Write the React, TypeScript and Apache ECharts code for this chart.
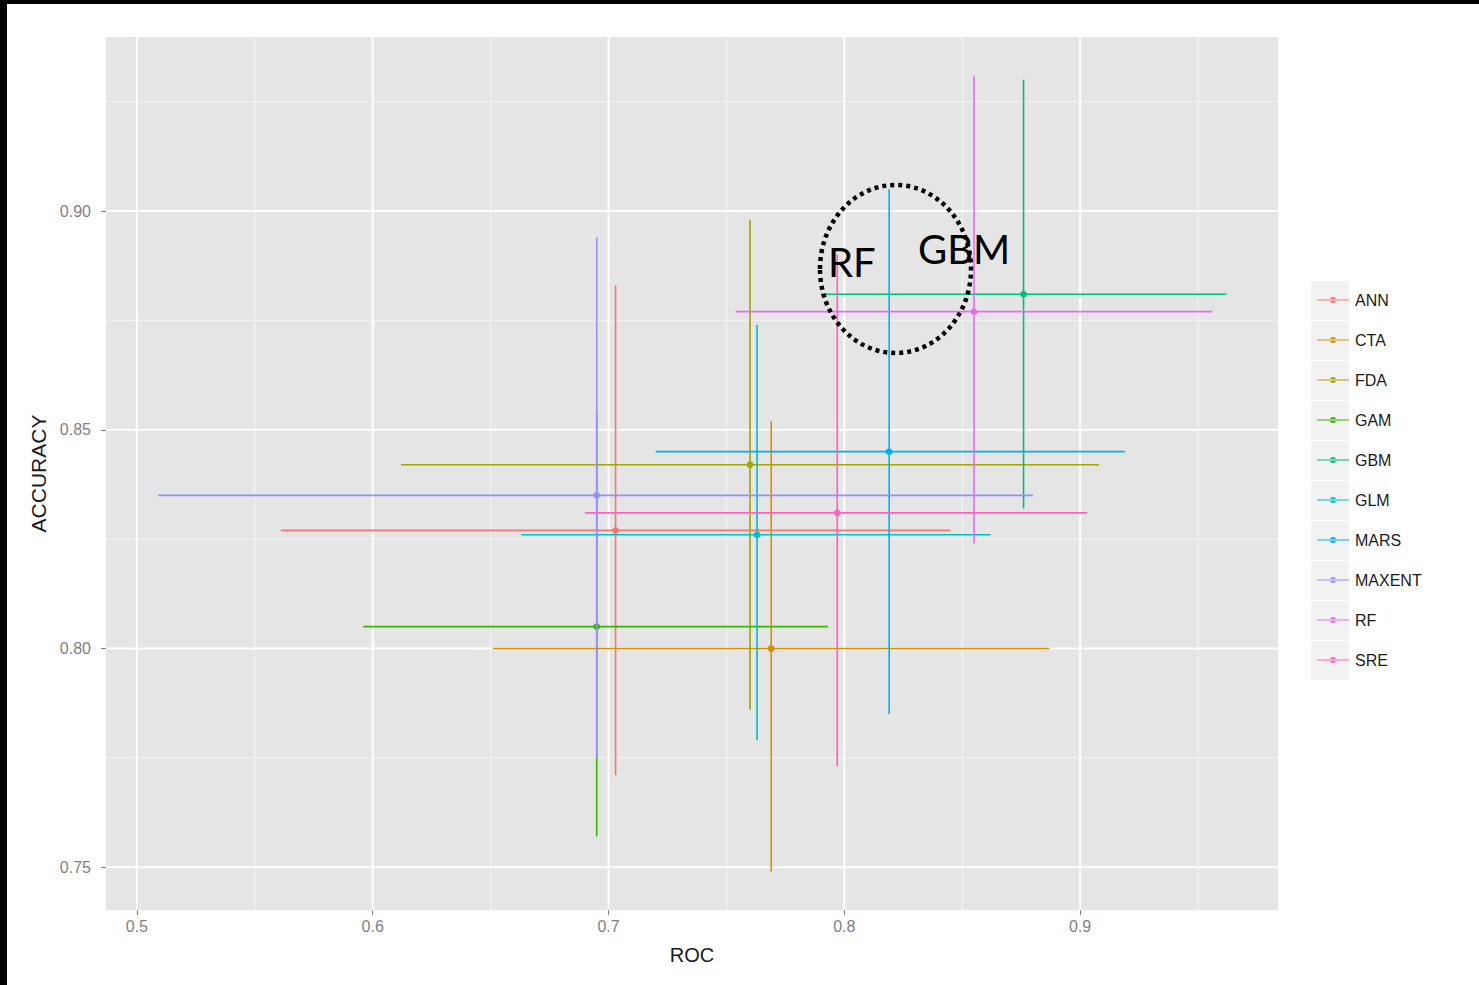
import React, { useEffect, useRef } from "react";
import * as echarts from "echarts";

const models = ["ANN", "CTA", "FDA", "GAM", "GBM", "GLM", "MARS", "MAXENT", "RF", "SRE"];
const colors = ["#F8766D", "#D89000", "#A3A500", "#39B600", "#00BF7D", "#00BFC4", "#00B0F6", "#9590FF", "#E76BF3", "#FF62BC"];
const rocMean = [0.703, 0.769, 0.760, 0.695, 0.876, 0.763, 0.819, 0.695, 0.855, 0.797];
const rocLow = [0.561, 0.651, 0.612, 0.596, 0.790, 0.663, 0.720, 0.509, 0.754, 0.690];
const rocHigh = [0.845, 0.887, 0.908, 0.793, 0.962, 0.862, 0.919, 0.880, 0.956, 0.903];
const accMean = [0.827, 0.800, 0.842, 0.805, 0.881, 0.826, 0.845, 0.835, 0.877, 0.831];
const accLow = [0.771, 0.749, 0.786, 0.757, 0.832, 0.779, 0.785, 0.775, 0.824, 0.773];
const accHigh = [0.883, 0.852, 0.898, 0.854, 0.930, 0.874, 0.905, 0.894, 0.931, 0.890];

const xTicks = [0.5, 0.6, 0.7, 0.8, 0.9];
const xMinor = [0.55, 0.65, 0.75, 0.85, 0.95];
const yTicks = [0.75, 0.8, 0.85, 0.9];
const yMinor = [0.775, 0.825, 0.875, 0.925];
const xRange = [0.4869, 0.9839];
const yRange = [0.7402, 0.9398];

const FONT = "'Liberation Sans', Arial, sans-serif";
const legendIcon = "path://M0,2.4 L32,2.4 L32,3.6 L0,3.6 Z M13,3 A3,3 0 1,0 19,3 A3,3 0 1,0 13,3 Z";

export default function App() {
  const ref = useRef<HTMLDivElement>(null);
  useEffect(() => {
    if (!ref.current) return;
    const chart = echarts.init(ref.current, null, { renderer: "svg" });

    const series: any[] = [
      {
        type: "custom",
        silent: true,
        z: 1,
        data: [[xRange[0], yRange[0]]],
        renderItem: (params: any, api: any) => {
          const cs = params.coordSys;
          const children: any[] = [];
          const vline = (v: number, major: boolean) => {
            const p = api.coord([v, yRange[0]]);
            children.push({
              type: "line",
              shape: { x1: p[0], y1: cs.y, x2: p[0], y2: cs.y + cs.height },
              style: { stroke: major ? "#FFFFFF" : "#F5F5F5", lineWidth: major ? 2 : 1 },
            });
          };
          const hline = (v: number, major: boolean) => {
            const p = api.coord([xRange[0], v]);
            children.push({
              type: "line",
              shape: { x1: cs.x, y1: p[1], x2: cs.x + cs.width, y2: p[1] },
              style: { stroke: major ? "#FFFFFF" : "#F5F5F5", lineWidth: major ? 2 : 1 },
            });
          };
          xMinor.forEach((v) => vline(v, false));
          yMinor.forEach((v) => hline(v, false));
          xTicks.forEach((v) => vline(v, true));
          yTicks.forEach((v) => hline(v, true));
          return { type: "group", children };
        },
      },
    ];
    models.forEach((m, i) => {
      series.push({
        type: "custom",
        name: m,
        color: colors[i],
        itemStyle: { color: colors[i] },
        z: 3,
        encode: { x: [0, 2, 3], y: [1, 4, 5] },
        data: [[rocMean[i], accMean[i], rocLow[i], rocHigh[i], accLow[i], accHigh[i]]],
        renderItem: (params: any, api: any) => {
          const c = api.coord([api.value(0), api.value(1)]);
          const l = api.coord([api.value(2), api.value(1)]);
          const r = api.coord([api.value(3), api.value(1)]);
          const b = api.coord([api.value(0), api.value(4)]);
          const t = api.coord([api.value(0), api.value(5)]);
          const col = colors[i];
          return {
            type: "group",
            children: [
              { type: "line", shape: { x1: l[0], y1: l[1], x2: r[0], y2: r[1] }, style: { stroke: col, lineWidth: 1.6 } },
              { type: "line", shape: { x1: b[0], y1: b[1], x2: t[0], y2: t[1] }, style: { stroke: col, lineWidth: 1.6 } },
              { type: "circle", shape: { cx: c[0], cy: c[1], r: 3.4 }, style: { fill: col } },
            ],
          };
        },
      });
    });

    const keyRects: any[] = models.map((_, i) => ({
      type: "rect",
      shape: { x: 1311, y: 281 + 40 * i, width: 38, height: 39 },
      style: { fill: "#F2F2F2" },
      z: 0,
    }));

    chart.setOption({
      animation: false,
      backgroundColor: "#FFFFFF",
      textStyle: { fontFamily: FONT },
      grid: {
        left: 106,
        top: 37,
        right: 201,
        bottom: 75,
        show: true,
        backgroundColor: "#E5E5E5",
        borderWidth: 0,
      },
      xAxis: {
        type: "value",
        min: xRange[0],
        max: xRange[1],
        name: "ROC",
        nameLocation: "middle",
        nameGap: 35,
        nameTextStyle: { color: "#1A1A1A", fontSize: 20, fontFamily: FONT },
        axisLine: { show: false },
        splitLine: { show: false },
        axisTick: { show: true, length: 5, lineStyle: { color: "#7F7F7F", width: 1 }, customValues: xTicks },
        axisLabel: {
          color: "#7F7F7F",
          fontSize: 16,
          fontFamily: FONT,
          margin: 8,
          customValues: xTicks,
          formatter: (v: number) => v.toFixed(1),
        },
      },
      yAxis: {
        type: "value",
        min: yRange[0],
        max: yRange[1],
        name: "ACCURACY",
        nameLocation: "middle",
        nameGap: 52,
        nameRotate: 90,
        nameTextStyle: { color: "#1A1A1A", fontSize: 21, fontFamily: FONT },
        axisLine: { show: false },
        splitLine: { show: false },
        axisTick: { show: true, length: 5, lineStyle: { color: "#7F7F7F", width: 1 }, customValues: yTicks },
        axisLabel: {
          color: "#7F7F7F",
          fontSize: 16,
          fontFamily: FONT,
          margin: 15,
          customValues: yTicks,
          formatter: (v: number) => v.toFixed(2),
        },
      },
      legend: {
        orient: "vertical",
        left: 1312,
        top: 285,
        itemWidth: 32,
        itemHeight: 20,
        itemGap: 20,
        icon: legendIcon,
        data: models,
        selectedMode: false,
        textStyle: { color: "#1A1A1A", fontSize: 16, fontFamily: FONT, lineHeight: 20, padding: [0, 0, 0, 1] },
      },
      graphic: [
        ...keyRects,
        { type: "rect", shape: { x: 0, y: 0, width: 1479, height: 4 }, style: { fill: "#000000" }, z: 100 },
        { type: "rect", shape: { x: 0, y: 0, width: 7, height: 985 }, style: { fill: "#000000" }, z: 100 },
        {
          type: "ellipse",
          shape: { cx: 895.5, cy: 269, rx: 75.5, ry: 84 },
          style: { fill: "none", stroke: "#000000", lineWidth: 4.5, lineDash: [4, 4] },
          z: 100,
        },
        {
          type: "text",
          x: 828,
          y: 262,
          style: { text: "RF", fill: "#000000", font: "40px Lato, 'Open Sans', sans-serif", verticalAlign: "middle", align: "left" },
          z: 101,
        },
        {
          type: "text",
          x: 918,
          y: 249,
          style: { text: "GBM", fill: "#000000", font: "40px Lato, 'Open Sans', sans-serif", verticalAlign: "middle", align: "left" },
          z: 101,
        },
      ],
      series,
    });
    return () => chart.dispose();
  }, []);
  return <div ref={ref} style={{ position: "fixed", left: 0, top: 0, width: 1479, height: 985 }} />;
}
